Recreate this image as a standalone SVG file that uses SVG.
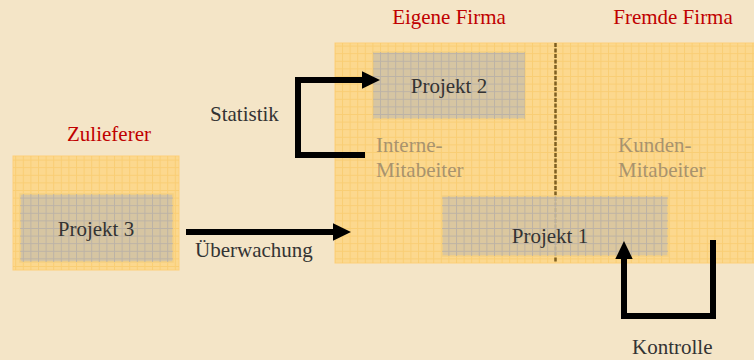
<svg xmlns="http://www.w3.org/2000/svg" width="754" height="360" viewBox="0 0 754 360">
<defs>
<pattern id="gridO" width="7.6" height="7.6" patternUnits="userSpaceOnUse">
<path d="M0 0.5H7.6M0.5 0V7.6" stroke="#F8C96A" stroke-width="1" fill="none" opacity="0.7"/>
</pattern>
<pattern id="gridG" width="7.6" height="7.6" patternUnits="userSpaceOnUse">
<path d="M0 0.5H7.6M0.5 0V7.6" stroke="#B5AEA8" stroke-width="1" fill="none" opacity="0.8"/>
</pattern>
<marker id="ah" markerWidth="3" markerHeight="3" refX="0.5" refY="1.45" orient="auto" markerUnits="strokeWidth">
<path d="M0 0L3 1.45L0 2.9Z" fill="#000"/>
</marker>
<style>
.t{font-family:"Liberation Serif","DejaVu Serif","Times New Roman",serif;font-size:21px;fill:#333}
.r{font-family:"Liberation Serif","DejaVu Serif","Times New Roman",serif;font-size:21px;fill:#C00000}
.m{font-family:"Liberation Serif","DejaVu Serif","Times New Roman",serif;font-size:21px;fill:#A8936E}
.ob{fill:#FCD88E;stroke:#FDD07A;stroke-width:1}
.gb{fill:#D6C5A2;stroke:#F5CF80;stroke-width:1.5}
.c{fill:none;stroke:#000;stroke-width:6}
</style>
</defs>
<rect width="754" height="360" fill="#F4E5C7"/>
<g id="eigene-fremde">
<rect class="ob" x="335" y="43" width="425" height="220"/>
<rect x="335" y="43" width="425" height="220" fill="url(#gridO)"/>
<line x1="555.5" y1="43" x2="555.5" y2="263" stroke="#7E5F22" stroke-width="2.5" stroke-dasharray="4 1.5"/>
<text class="r" x="449" y="24" text-anchor="middle">Eigene Firma</text>
<text class="r" x="673" y="24" text-anchor="middle">Fremde Firma</text>
<text class="m" x="376" y="152">Interne-</text>
<text class="m" x="376" y="177">Mitabeiter</text>
<text class="m" x="618" y="152">Kunden-</text>
<text class="m" x="618" y="177">Mitabeiter</text>
</g>
<g id="projekt2">
<rect class="gb" x="373" y="52" width="152" height="67"/>
<rect x="373" y="52" width="152" height="67" fill="url(#gridG)"/>
<text class="t" x="449" y="93" text-anchor="middle">Projekt 2</text>
</g>
<g id="projekt1">
<rect class="gb" x="442" y="196" width="226" height="60" opacity="0.85"/>
<rect x="442" y="196" width="226" height="60" fill="url(#gridG)"/>
<text class="t" x="550" y="243" text-anchor="middle">Projekt 1</text>
</g>
<g id="zulieferer">
<rect class="ob" x="13" y="156" width="166" height="114"/>
<rect x="13" y="156" width="166" height="114" fill="url(#gridO)"/>
<text class="r" x="109" y="141" text-anchor="middle">Zulieferer</text>
</g>
<g id="projekt3">
<rect class="gb" x="20" y="194" width="153" height="68"/>
<rect x="20" y="194" width="153" height="68" fill="url(#gridG)"/>
<text class="t" x="96" y="236" text-anchor="middle">Projekt 3</text>
</g>
<g id="connectors">
<path class="c" d="M365 155H298V80H365" marker-end="url(#ah)"/>
<path class="c" d="M186 232H336" marker-end="url(#ah)"/>
<path class="c" d="M713 240V316H624V256" marker-end="url(#ah)"/>
<text class="t" x="210" y="121">Statistik</text>
<text class="t" x="195" y="257">Überwachung</text>
<text class="t" x="632" y="354">Kontrolle</text>
</g>
</svg>
